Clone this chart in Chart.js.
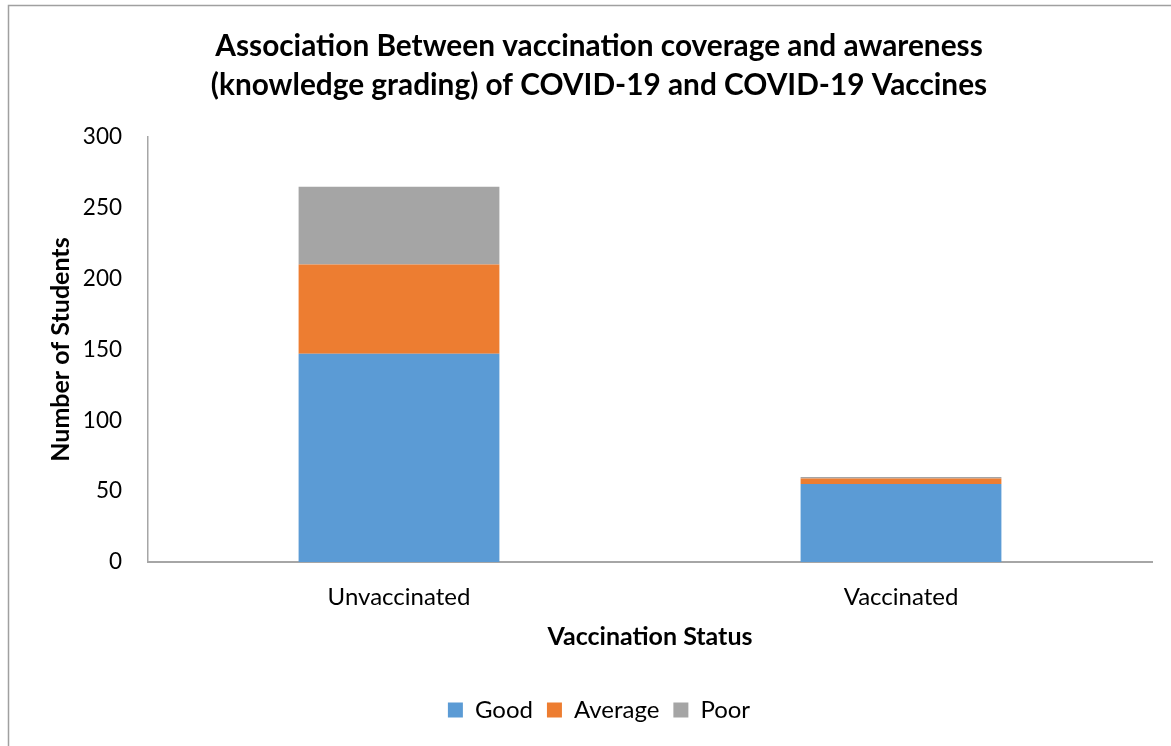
<!DOCTYPE html>
<html>
<head>
<meta charset="utf-8">
<script src="https://cdn.jsdelivr.net/npm/chart.js@4"></script>
<style>
  html, body { margin: 0; padding: 0; background: #fff; }
  #wrap { width: 1171px; height: 746px; position: relative; }
</style>
</head>
<body>
<div id="wrap"><canvas id="chart"></canvas></div>
<script>
const statuses = ['Unvaccinated', 'Vaccinated'];
const good = [147, 55];
const average = [63, 4];
const poor = [55, 1];
const yTicks = [0, 50, 100, 150, 200, 250, 300];

const font = 'Lato, "Open Sans", sans-serif';

// light frame round the chart, as in the spreadsheet export
const framePlugin = {
    id: 'frame',
    beforeDraw(chart) {
        const c = chart.ctx;
        c.save();
        c.strokeStyle = '#a0a0a0';
        c.lineWidth = 1.5;
        c.beginPath();
        c.moveTo(8.5, chart.height + 5);
        c.lineTo(8.5, 5.5);
        c.lineTo(chart.width + 5, 5.5);
        c.stroke();
        c.restore();
    }
};

new Chart(document.getElementById('chart'), {
    type: 'bar',
    data: {
        labels: statuses,
        datasets: [
            { label: 'Good', data: good, backgroundColor: '#5b9bd5' },
            { label: 'Average', data: average, backgroundColor: '#ed7d31' },
            { label: 'Poor', data: poor, backgroundColor: '#a5a5a5' }
        ]
    },
    options: {
        responsive: true,
        maintainAspectRatio: false,
        animation: false,
        barPercentage: 0.4,
        categoryPercentage: 1.0,
        layout: { padding: { left: 46, right: 19, top: 27, bottom: 14 } },
        plugins: {
            title: {
                display: true,
                text: ['Association Between vaccination coverage and awareness',
                       '(knowledge grading) of COVID-19 and COVID-19 Vaccines'],
                font: { family: font, size: 29.8, weight: 'bold', lineHeight: 1.31 },
                color: '#000',
                padding: { top: 0, bottom: 32 }
            },
            legend: {
                position: 'bottom',
                labels: {
                    font: { family: font, size: 24 },
                    color: '#000',
                    boxWidth: 15,
                    boxHeight: 15,
                    padding: 14
                }
            },
            tooltip: { enabled: false }
        },
        scales: {
            x: {
                stacked: true,
                grid: { display: false, drawTicks: false },
                border: { color: '#a6a6a6', width: 2 },
                ticks: { font: { family: font, size: 24 }, color: '#000', padding: 21 },
                afterFit(scale) {
                    scale.height = 122;
                },
                title: {
                    display: true,
                    text: 'Vaccination Status',
                    font: { family: font, size: 25, weight: 'bold' },
                    color: '#000',
                    padding: { top: 0, bottom: 32 }
                }
            },
            y: {
                stacked: true,
                min: 0,
                max: 300,
                grid: { display: false, drawTicks: false },
                border: { color: '#a6a6a6', width: 1.5 },
                afterBuildTicks(scale) {
                    scale.ticks = yTicks.map(v => ({ value: v }));
                },
                afterFit(scale) {
                    scale.width = 102;
                },
                ticks: { font: { family: font, size: 22.5 }, color: '#000', padding: 26 },
                title: {
                    display: true,
                    text: 'Number of Students',
                    font: { family: font, size: 25, weight: 'bold' },
                    color: '#000',
                    padding: { top: 0, bottom: 0 }
                }
            }
        }
    },
    plugins: [framePlugin]
});
</script>
</body>
</html>
